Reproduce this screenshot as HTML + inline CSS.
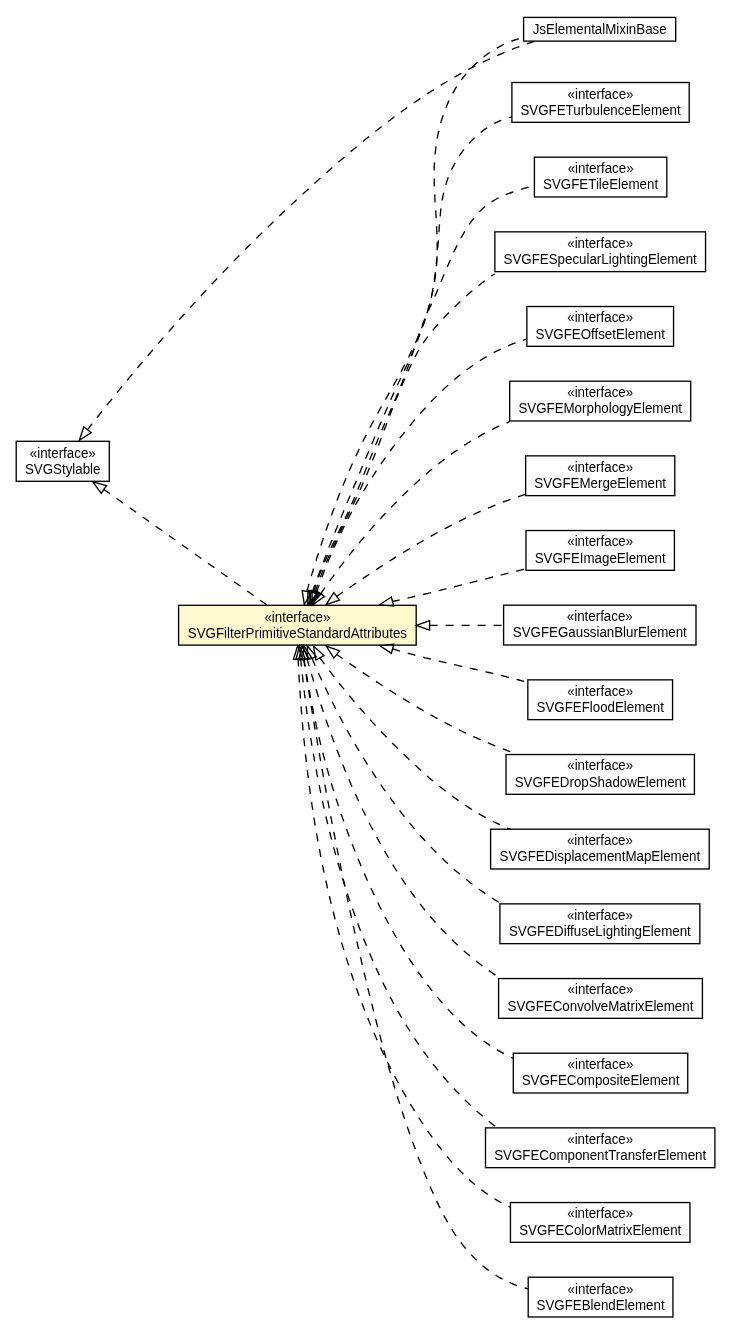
<!DOCTYPE html>
<html><head><meta charset="utf-8"><title>SVGFilterPrimitiveStandardAttributes</title>
<style>
html,body{margin:0;padding:0;background:#fff;}
body{width:731px;height:1328px;position:relative;overflow:hidden;font-family:"Liberation Sans",sans-serif;}
</style></head><body>
<svg width="731" height="1328" viewBox="0 0 731 1328" style="position:absolute;left:0;top:0;will-change:transform">
<g fill="none" stroke="#000" stroke-width="1.333">
<rect x="523.60" y="17.40" width="152.10" height="23.70"/>
<rect x="511.90" y="82.50" width="177.30" height="39.80"/>
<rect x="534.40" y="157.17" width="132.40" height="39.80"/>
<rect x="494.86" y="231.84" width="210.68" height="39.80"/>
<rect x="526.86" y="306.51" width="146.69" height="39.80"/>
<rect x="509.69" y="381.18" width="181.02" height="39.80"/>
<rect x="525.62" y="455.85" width="149.16" height="39.80"/>
<rect x="525.99" y="530.52" width="148.42" height="39.80"/>
<rect x="503.60" y="605.19" width="192.40" height="39.80"/>
<rect x="527.84" y="679.86" width="144.72" height="39.80"/>
<rect x="505.99" y="754.53" width="188.42" height="39.80"/>
<rect x="490.60" y="829.20" width="218.62" height="39.80"/>
<rect x="499.90" y="903.87" width="199.95" height="39.80"/>
<rect x="498.59" y="978.54" width="203.81" height="39.80"/>
<rect x="513.30" y="1053.21" width="174.44" height="39.80"/>
<rect x="485.50" y="1127.88" width="229.41" height="39.80"/>
<rect x="510.45" y="1202.55" width="179.50" height="39.80"/>
<rect x="528.20" y="1277.22" width="144.74" height="39.80"/>
<rect x="16.20" y="441.30" width="93.10" height="40.00"/>
<rect x="178.60" y="605.30" width="237.60" height="39.80" fill="#fef8cf"/>
</g>
<g font-family="Liberation Sans, sans-serif" font-size="13.333" text-anchor="middle" fill="#000">
<text x="599.65" y="33.70" transform="matrix(1,0,0,1.05,0,-1.685)">JsElementalMixinBase</text>
<text x="600.55" y="98.70" transform="matrix(1,0,0,1.05,0,-4.935)">«interface»</text>
<text x="600.55" y="114.80" transform="matrix(1,0,0,1.05,0,-5.740)">SVGFETurbulenceElement</text>
<text x="600.60" y="173.07" transform="matrix(1,0,0,1.05,0,-8.654)">«interface»</text>
<text x="600.60" y="189.27" transform="matrix(1,0,0,1.05,0,-9.464)">SVGFETileElement</text>
<text x="600.20" y="247.74" transform="matrix(1,0,0,1.05,0,-12.387)">«interface»</text>
<text x="600.20" y="263.94" transform="matrix(1,0,0,1.05,0,-13.197)">SVGFESpecularLightingElement</text>
<text x="600.20" y="322.41" transform="matrix(1,0,0,1.05,0,-16.121)">«interface»</text>
<text x="600.20" y="338.61" transform="matrix(1,0,0,1.05,0,-16.931)">SVGFEOffsetElement</text>
<text x="600.20" y="397.08" transform="matrix(1,0,0,1.05,0,-19.854)">«interface»</text>
<text x="600.20" y="413.28" transform="matrix(1,0,0,1.05,0,-20.664)">SVGFEMorphologyElement</text>
<text x="600.20" y="471.75" transform="matrix(1,0,0,1.05,0,-23.588)">«interface»</text>
<text x="600.20" y="487.95" transform="matrix(1,0,0,1.05,0,-24.398)">SVGFEMergeElement</text>
<text x="600.20" y="546.42" transform="matrix(1,0,0,1.05,0,-27.321)">«interface»</text>
<text x="600.20" y="562.62" transform="matrix(1,0,0,1.05,0,-28.131)">SVGFEImageElement</text>
<text x="599.80" y="621.09" transform="matrix(1,0,0,1.05,0,-31.055)">«interface»</text>
<text x="599.80" y="637.29" transform="matrix(1,0,0,1.05,0,-31.865)">SVGFEGaussianBlurElement</text>
<text x="600.20" y="695.71" transform="matrix(1,0,0,1.05,0,-34.786)">«interface»</text>
<text x="600.20" y="711.71" transform="matrix(1,0,0,1.05,0,-35.586)">SVGFEFloodElement</text>
<text x="600.20" y="770.43" transform="matrix(1,0,0,1.05,0,-38.522)">«interface»</text>
<text x="600.20" y="786.63" transform="matrix(1,0,0,1.05,0,-39.332)">SVGFEDropShadowElement</text>
<text x="599.91" y="845.10" transform="matrix(1,0,0,1.05,0,-42.255)">«interface»</text>
<text x="599.91" y="861.30" transform="matrix(1,0,0,1.05,0,-43.065)">SVGFEDisplacementMapElement</text>
<text x="599.88" y="919.77" transform="matrix(1,0,0,1.05,0,-45.989)">«interface»</text>
<text x="599.88" y="935.97" transform="matrix(1,0,0,1.05,0,-46.799)">SVGFEDiffuseLightingElement</text>
<text x="600.50" y="994.44" transform="matrix(1,0,0,1.05,0,-49.722)">«interface»</text>
<text x="600.50" y="1010.64" transform="matrix(1,0,0,1.05,0,-50.532)">SVGFEConvolveMatrixElement</text>
<text x="600.52" y="1069.11" transform="matrix(1,0,0,1.05,0,-53.456)">«interface»</text>
<text x="600.52" y="1085.31" transform="matrix(1,0,0,1.05,0,-54.266)">SVGFECompositeElement</text>
<text x="600.20" y="1143.78" transform="matrix(1,0,0,1.05,0,-57.189)">«interface»</text>
<text x="600.20" y="1159.98" transform="matrix(1,0,0,1.05,0,-57.999)">SVGFEComponentTransferElement</text>
<text x="600.20" y="1218.45" transform="matrix(1,0,0,1.05,0,-60.923)">«interface»</text>
<text x="600.20" y="1234.65" transform="matrix(1,0,0,1.05,0,-61.733)">SVGFEColorMatrixElement</text>
<text x="600.57" y="1293.52" transform="matrix(1,0,0,1.05,0,-64.676)">«interface»</text>
<text x="600.57" y="1309.72" transform="matrix(1,0,0,1.05,0,-65.486)">SVGFEBlendElement</text>
<text x="62.75" y="457.70" transform="matrix(1,0,0,1.05,0,-22.885)">«interface»</text>
<text x="62.75" y="473.80" transform="matrix(1,0,0,1.05,0,-23.690)">SVGStylable</text>
<text x="297.40" y="621.60" transform="matrix(1,0,0,1.05,0,-31.080)">«interface»</text>
<text x="297.40" y="637.70" transform="matrix(1,0,0,1.05,0,-31.885)">SVGFilterPrimitiveStandardAttributes</text>
</g>
<g fill="none" stroke="#000" stroke-width="1.333" stroke-dasharray="8 8">
<path d="M87.1,430.2 89,427.8 90.8,425.4 92.7,423.1 94.6,420.7 96.4,418.3 98.3,416 100.2,413.6 102.1,411.2 103.9,408.9 105.8,406.5 107.7,404.2 109.6,401.8 111.5,399.5 113.4,397.1 115.3,394.8 117.2,392.4 119.1,390.1 121,387.7 123,385.4 124.9,383.1 126.8,380.8 128.7,378.4 130.6,376.1 132.6,373.8 134.5,371.5 136.4,369.2 138.4,366.8 140.3,364.5 142.3,362.2 144.2,359.9 146.2,357.6 148.1,355.3 150.1,353 152.1,350.7 154,348.5 156,346.2 158,343.9 159.9,341.6 161.9,339.3 163.9,337.1 165.9,334.8 167.9,332.5 169.9,330.3 171.9,328 173.9,325.7 175.9,323.5 177.9,321.2 179.9,319 181.9,316.7 183.9,314.5 185.9,312.3 187.9,310 190,307.8 192,305.6 194,303.3 196.1,301.1 198.1,298.9 200.2,296.7 202.2,294.5 204.3,292.3 206.3,290 208.4,287.8 210.4,285.6 212.5,283.4 214.6,281.2 216.6,279.1 218.7,276.9 220.8,274.7 222.9,272.5 225,270.3 227,268.2 229.1,266 231.2,263.8 233.3,261.7 235.4,259.5 237.5,257.3 239.7,255.2 241.8,253 243.9,250.9 246,248.7 248.1,246.6 250.3,244.5 252.4,242.3 254.5,240.2 256.7,238.1 258.8,236 261,233.8 263.1,231.7 265.3,229.6 267.5,227.5 269.6,225.4 271.8,223.3 274,221.2 276.1,219.1 278.3,217 280.5,214.9 282.7,212.8 284.9,210.8 287.1,208.7 289.3,206.6 291.5,204.6 293.7,202.5 295.9,200.4 298.1,198.4 300.3,196.3 302.5,194.3 304.8,192.2 307,190.2 309.2,188.1 311.5,186.1 313.7,184.1 316,182.1 318.2,180 320.5,178 322.7,176 325,174 327.3,172 329.5,170 331.8,168 334.1,166 336.4,164 338.7,162 341,160 343.3,158.1 345.6,156.1 347.9,154.1 350.2,152.2 352.5,150.2 354.8,148.3 357.1,146.3 359.5,144.4 361.8,142.5 364.1,140.5 366.5,138.6 368.8,136.7 371.2,134.8 373.6,132.9 375.9,131.1 378.3,129.2 380.7,127.3 383.1,125.5 385.5,123.6 387.9,121.8 390.3,120 392.7,118.1 395.1,116.3 397.5,114.5 400,112.8 402.4,111 404.9,109.2 407.3,107.5 409.8,105.7 412.2,104 414.7,102.3 417.2,100.6 419.7,98.9 422.2,97.2 424.7,95.5 427.2,93.9 429.7,92.2 432.2,90.6 434.8,89 437.3,87.4 439.9,85.8 442.4,84.3 445,82.7 447.6,81.2 450.2,79.6 452.8,78.1 455.4,76.6 458,75.2 460.6,73.7 463.2,72.3 465.9,70.8 468.5,69.4 471.2,68 473.8,66.6 476.5,65.3 479.2,63.9 481.9,62.6 484.6,61.3 487.3,60 490,58.8 492.8,57.5 495.5,56.3 498.2,55.1 501,53.9 503.8,52.7 506.6,51.6 509.4,50.4 512.2,49.3 515,48.2 517.8,47.2 520.6,46.1 523.5,45.1 526.4,44.1 529.2,43.1 532.1,42.1 535,41.2"/>
<path d="M306.8,591.5 307.6,588.6 308.5,585.7 309.3,582.8 310.2,579.9 311,577 311.9,574.1 312.8,571.2 313.7,568.3 314.5,565.5 315.4,562.6 316.3,559.7 317.2,556.8 318.2,553.9 319.1,551.1 320,548.2 321,545.3 321.9,542.5 322.9,539.6 323.8,536.8 324.8,533.9 325.8,531 326.8,528.2 327.8,525.4 328.8,522.5 329.8,519.7 330.8,516.8 331.9,514 332.9,511.2 334,508.4 335,505.5 336.1,502.7 337.2,499.9 338.3,497.1 339.4,494.3 340.5,491.5 341.7,488.7 342.8,485.9 344,483.2 345.1,480.4 346.3,477.6 347.5,474.8 348.7,472.1 349.9,469.3 351.1,466.6 352.3,463.8 353.6,461.1 354.8,458.3 356.1,455.6 357.4,452.9 358.6,450.1 360,447.4 361.3,444.7 362.6,442 363.9,439.3 365.3,436.6 366.7,433.9 368,431.2 369.4,428.6 370.8,425.9 372.3,423.2 373.7,420.6 375.1,417.9 376.6,415.3 378.1,412.6 379.5,410 381,407.3 382.5,404.7 384,402.1 385.5,399.4 387,396.8 388.5,394.2 390,391.6 391.5,388.9 392.9,386.3 394.4,383.7 395.9,381 397.4,378.4 398.8,375.7 400.3,373.1 401.7,370.4 403.1,367.8 404.5,365.1 405.9,362.4 407.3,359.7 408.7,357 410,354.3 411.3,351.6 412.6,348.9 413.9,346.2 415.2,343.5 416.4,340.7 417.6,337.9 418.8,335.2 419.9,332.4 421,329.6 422.1,326.8 423.2,323.9 424.2,321.1 425.2,318.3 426.1,315.4 427.1,312.6 428,309.7 428.8,306.8 429.6,303.9 430.4,301 431.1,298.1 431.8,295.2 432.5,292.2 433.1,289.3 433.7,286.4 434.2,283.4 434.7,280.5 435.2,277.5 435.6,274.6 435.9,271.6 436.3,268.6 436.5,265.6 436.8,262.6 436.9,259.7 437.1,256.7 437.2,253.7 437.2,250.7 437.2,247.7 437.2,244.7 437.2,241.6 437.1,238.6 437,235.6 436.9,232.6 436.7,229.6 436.6,226.6 436.4,223.5 436.3,220.5 436.1,217.5 435.9,214.4 435.7,211.4 435.5,208.4 435.3,205.3 435.1,202.3 434.9,199.3 434.8,196.2 434.6,193.2 434.5,190.2 434.4,187.1 434.3,184.1 434.2,181.1 434.2,178 434.2,175 434.2,172 434.2,169 434.3,165.9 434.5,162.9 434.7,159.9 434.9,156.9 435.1,153.9 435.5,150.8 435.8,147.8 436.2,144.9 436.7,141.9 437.2,138.9 437.7,136 438.3,133 439,130.1 439.7,127.2 440.4,124.3 441.2,121.4 442.1,118.5 443,115.7 444,112.9 445,110.1 446.1,107.3 447.2,104.6 448.4,101.9 449.7,99.2 451,96.5 452.4,93.9 453.9,91.3 455.4,88.7 457,86.2 458.7,83.7 460.4,81.3 462.1,78.8 464,76.5 465.9,74.1 467.8,71.8 469.9,69.6 471.9,67.4 474.1,65.3 476.3,63.2 478.5,61.2 480.8,59.2 483.1,57.3 485.5,55.5 488,53.7 490.5,52 493,50.4 495.6,48.8 498.2,47.3 500.9,45.9 503.6,44.5 506.3,43.3 509.1,42.1 511.9,41 514.8,40 517.7,39.1 520.6,38.3 523.6,37.6"/>
<path d="M312.3,592.4 313.3,589.5 314.3,586.7 315.3,583.8 316.3,581 317.4,578.2 318.4,575.3 319.5,572.5 320.5,569.7 321.6,566.8 322.6,564 323.7,561.2 324.8,558.4 325.9,555.5 326.9,552.7 328,549.9 329.1,547.1 330.2,544.3 331.4,541.5 332.5,538.7 333.6,535.9 334.7,533.1 335.8,530.3 337,527.5 338.1,524.7 339.3,521.9 340.4,519.1 341.5,516.3 342.7,513.5 343.8,510.7 345,507.9 346.2,505.1 347.3,502.3 348.5,499.6 349.6,496.8 350.8,494 352,491.2 353.1,488.4 354.3,485.6 355.5,482.8 356.7,480.1 357.8,477.3 359,474.5 360.2,471.7 361.3,468.9 362.5,466.1 363.7,463.3 364.9,460.6 366,457.8 367.2,455 368.4,452.2 369.5,449.4 370.7,446.6 371.9,443.8 373.1,441 374.2,438.2 375.4,435.4 376.6,432.7 377.7,429.9 378.9,427.1 380.1,424.3 381.3,421.5 382.5,418.7 383.7,416 384.9,413.2 386.1,410.4 387.3,407.7 388.5,404.9 389.7,402.1 390.9,399.4 392.1,396.6 393.4,393.9 394.6,391.2 395.9,388.4 397.1,385.7 398.4,383 399.7,380.3 401,377.5 402.3,374.8 403.6,372.1 404.8,369.4 406.1,366.7 407.4,364 408.7,361.3 409.9,358.5 411.1,355.8 412.4,353.1 413.5,350.3 414.7,347.5 415.8,344.7 417,341.9 418.1,339.1 419.2,336.3 420.3,333.4 421.3,330.6 422.4,327.7 423.4,324.9 424.4,322 425.3,319.1 426.2,316.2 427.1,313.3 428,310.4 428.8,307.5 429.5,304.6 430.3,301.6 430.9,298.7 431.6,295.8 432.2,292.8 432.7,289.8 433.2,286.9 433.7,283.9 434.2,280.9 434.6,278 435,275 435.4,272 435.7,269 436.1,266 436.4,263 436.7,260 437,257 437.2,254 437.5,251 437.7,248 438,245 438.2,241.9 438.4,238.9 438.6,235.9 438.8,232.9 439.1,229.9 439.3,226.9 439.5,223.8 439.7,220.8 440,217.8 440.3,214.8 440.6,211.8 440.9,208.8 441.3,205.8 441.8,202.9 442.2,199.9 442.8,196.9 443.4,194 444.1,191.1 444.8,188.2 445.6,185.3 446.5,182.4 447.5,179.5 448.5,176.7 449.7,173.9 450.9,171.1 452.2,168.4 453.6,165.7 455,163 456.5,160.4 458.1,157.8 459.8,155.2 461.5,152.7 463.3,150.3 465.1,147.9 467.1,145.6 469.1,143.3 471.1,141.1 473.2,139 475.4,136.9 477.6,134.9 479.9,133 482.3,131.2 484.7,129.4 487.2,127.7 489.7,126.1 492.3,124.6 495,123.2 497.7,121.9 500.4,120.7 503.2,119.5 506.1,118.5 509,117.6 512,116.8"/>
<path d="M313.7,592.4 314.5,589.5 315.4,586.5 316.3,583.6 317.3,580.8 318.3,577.9 319.3,575.1 320.4,572.2 321.5,569.4 322.6,566.6 323.8,563.8 325,561 326.2,558.3 327.4,555.5 328.7,552.8 330,550 331.3,547.3 332.6,544.5 333.9,541.8 335.2,539.1 336.5,536.4 337.9,533.6 339.2,530.9 340.5,528.2 341.8,525.5 343.1,522.7 344.4,520 345.7,517.3 347,514.5 348.3,511.8 349.5,509 350.7,506.2 351.9,503.4 353.1,500.7 354.3,497.9 355.5,495.1 356.6,492.3 357.8,489.5 358.9,486.7 360.1,483.9 361.2,481.1 362.3,478.2 363.4,475.4 364.6,472.6 365.7,469.8 366.8,467 367.9,464.2 369,461.3 370.1,458.5 371.3,455.7 372.4,452.9 373.5,450.1 374.7,447.3 375.8,444.5 377,441.7 378.1,438.9 379.3,436.1 380.5,433.3 381.7,430.5 382.9,427.7 384.1,425 385.3,422.2 386.5,419.4 387.7,416.6 389,413.8 390.2,411.1 391.4,408.3 392.6,405.5 393.8,402.7 395,399.9 396.2,397.1 397.3,394.4 398.5,391.6 399.7,388.8 400.8,385.9 401.9,383.1 403,380.3 404.1,377.5 405.2,374.6 406.3,371.8 407.3,368.9 408.3,366.1 409.3,363.2 410.3,360.3 411.2,357.5 412.2,354.6 413.1,351.7 414,348.8 415,345.9 415.9,343 416.9,340.2 417.9,337.3 418.9,334.4 419.9,331.6 420.9,328.8 422,325.9 423.1,323.1 424.2,320.4 425.4,317.6 426.5,314.9 427.8,312.1 429,309.4 430.2,306.6 431.5,303.9 432.7,301.2 433.9,298.4 435.2,295.6 436.4,292.9 437.6,290.1 438.7,287.3 439.9,284.5 441.1,281.6 442.3,278.8 443.4,276 444.6,273.2 445.8,270.4 447,267.5 448.2,264.7 449.4,261.9 450.6,259.1 451.9,256.4 453.1,253.6 454.4,250.8 455.7,248.1 457.1,245.4 458.4,242.7 459.9,240 461.3,237.4 462.8,234.8 464.3,232.2 465.9,229.6 467.5,227.1 469.1,224.6 470.8,222.2 472.6,219.8 474.4,217.4 476.3,215.2 478.3,212.9 480.4,210.8 482.5,208.8 484.8,206.8 487.1,205 489.5,203.2 492,201.6 494.6,200 497.3,198.5 500,197.2 502.8,195.9 505.6,194.7 508.5,193.5 511.4,192.5 514.3,191.5 517.3,190.5 520.2,189.6 523.2,188.7 526.1,187.9 529,187.1 531.9,186.3 534.7,185.5"/>
<path d="M315.1,592.4 316,589.5 317,586.6 318,583.7 319,580.9 320,578 321.1,575.2 322.1,572.4 323.3,569.6 324.4,566.8 325.5,564 326.7,561.2 327.9,558.4 329.1,555.6 330.3,552.9 331.5,550.1 332.8,547.3 334.1,544.6 335.3,541.9 336.6,539.1 337.9,536.4 339.2,533.7 340.5,530.9 341.8,528.2 343.1,525.5 344.4,522.7 345.7,520 347.1,517.3 348.4,514.6 349.7,511.8 351,509.1 352.3,506.4 353.6,503.7 354.9,500.9 356.2,498.2 357.5,495.4 358.7,492.7 360,489.9 361.2,487.2 362.5,484.4 363.7,481.6 364.9,478.8 366.1,476.1 367.3,473.3 368.4,470.5 369.6,467.7 370.7,464.8 371.8,462 373,459.2 374.1,456.4 375.2,453.6 376.3,450.7 377.4,447.9 378.5,445.1 379.6,442.2 380.7,439.4 381.7,436.6 382.8,433.7 383.9,430.9 385,428 386.1,425.2 387.1,422.4 388.2,419.5 389.3,416.7 390.4,413.9 391.5,411.1 392.6,408.2 393.7,405.4 394.8,402.6 395.9,399.8 397.1,397 398.2,394.2 399.4,391.4 400.5,388.6 401.7,385.8 402.9,383 404.1,380.3 405.3,377.5 406.5,374.7 407.8,372 409,369.3 410.3,366.5 411.6,363.8 412.9,361.1 414.3,358.4 415.7,355.8 417.1,353.1 418.6,350.5 420.1,347.9 421.7,345.4 423.3,342.9 425,340.4 426.8,337.9 428.6,335.5 430.4,333.1 432.3,330.8 434.3,328.5 436.2,326.2 438.3,323.9 440.3,321.6 442.4,319.4 444.5,317.2 446.6,315 448.7,312.8 450.9,310.7 453,308.5 455.2,306.4 457.4,304.3 459.6,302.2 461.8,300.1 464,298.1 466.2,296 468.5,294 470.8,292 473.1,290.1 475.4,288.2 477.7,286.3 480.1,284.4 482.4,282.5 484.8,280.7 487.3,278.9 489.7,277.2 492.2,275.5 494.7,273.8"/>
<path d="M316.5,592.4 317.5,589.5 318.5,586.7 319.5,583.8 320.5,581 321.6,578.1 322.7,575.3 323.7,572.5 324.8,569.6 326,566.8 327.1,564 328.2,561.2 329.4,558.4 330.6,555.6 331.8,552.8 333,550.1 334.2,547.3 335.5,544.5 336.7,541.8 338,539 339.3,536.3 340.6,533.6 341.9,530.8 343.3,528.1 344.6,525.4 346,522.7 347.4,520 348.8,517.3 350.2,514.7 351.6,512 353.1,509.3 354.5,506.7 356,504 357.5,501.4 359,498.8 360.6,496.1 362.1,493.5 363.7,490.9 365.2,488.3 366.8,485.7 368.4,483.2 370,480.6 371.7,478 373.3,475.5 375,472.9 376.6,470.4 378.3,467.9 380,465.4 381.7,462.8 383.5,460.3 385.2,457.9 387,455.4 388.8,452.9 390.5,450.5 392.3,448 394.2,445.6 396,443.1 397.8,440.7 399.7,438.3 401.6,435.9 403.5,433.5 405.4,431.1 407.3,428.8 409.2,426.4 411.2,424.1 413.1,421.7 415.1,419.4 417.1,417.1 419.1,414.8 421.1,412.5 423.1,410.2 425.2,408 427.2,405.7 429.3,403.5 431.4,401.3 433.5,399.1 435.7,397 437.8,394.8 440,392.7 442.2,390.6 444.4,388.5 446.6,386.5 448.9,384.5 451.1,382.5 453.4,380.5 455.7,378.5 458,376.6 460.4,374.7 462.7,372.9 465.1,371 467.5,369.2 469.9,367.5 472.4,365.7 474.9,364 477.4,362.4 479.9,360.7 482.4,359.1 485,357.6 487.6,356 490.2,354.6 492.8,353.1 495.5,351.7 498.2,350.3 500.9,349 503.6,347.7 506.4,346.5 509.2,345.3 512,344.2 514.9,343.1 517.7,342 520.6,341 523.5,340 526.5,339.1"/>
<path d="M320.5,594.1 322.2,591.6 323.9,589.1 325.7,586.6 327.4,584.2 329.2,581.7 331,579.2 332.8,576.8 334.6,574.3 336.4,571.9 338.2,569.4 340,567 341.9,564.6 343.7,562.1 345.6,559.7 347.5,557.3 349.4,554.9 351.3,552.6 353.2,550.2 355.2,547.8 357.1,545.4 359.1,543.1 361,540.7 363,538.4 365,536.1 367,533.7 369,531.4 371,529.1 373.1,526.8 375.1,524.6 377.2,522.3 379.2,520 381.3,517.8 383.4,515.5 385.5,513.3 387.6,511 389.7,508.8 391.8,506.6 394,504.4 396.1,502.2 398.3,500.1 400.5,497.9 402.6,495.7 404.8,493.6 407,491.5 409.2,489.4 411.5,487.3 413.7,485.2 416,483.1 418.2,481 420.5,479 422.8,477 425.1,475 427.4,473 429.7,471 432.1,469.1 434.4,467.1 436.8,465.2 439.2,463.3 441.6,461.4 444,459.6 446.4,457.8 448.9,456 451.3,454.2 453.8,452.4 456.3,450.7 458.8,449 461.3,447.3 463.9,445.6 466.4,444 469,442.3 471.6,440.8 474.2,439.2 476.8,437.7 479.5,436.2 482.1,434.7 484.8,433.2 487.5,431.8 490.2,430.4 493,429.1 495.7,427.7 498.5,426.4 501.3,425.2 504.1,424 506.9,422.8 509.8,421.6"/>
<path d="M336.3,596.7 338.8,595 341.3,593.2 343.9,591.5 346.4,589.7 348.9,588 351.5,586.3 354,584.5 356.6,582.8 359.1,581.1 361.7,579.3 364.2,577.6 366.8,575.9 369.4,574.2 371.9,572.5 374.5,570.8 377.1,569.1 379.7,567.4 382.3,565.7 384.8,564.1 387.4,562.4 390,560.7 392.7,559.1 395.3,557.4 397.9,555.8 400.5,554.2 403.1,552.6 405.8,551 408.4,549.4 411.1,547.8 413.7,546.2 416.4,544.6 419,543 421.7,541.5 424.4,540 427.1,538.4 429.7,536.9 432.4,535.4 435.1,533.9 437.8,532.4 440.5,531 443.3,529.5 446,528.1 448.7,526.6 451.5,525.2 454.2,523.8 457,522.4 459.7,521.1 462.5,519.7 465.2,518.4 468,517.1 470.8,515.8 473.6,514.5 476.4,513.2 479.2,511.9 482,510.7 484.8,509.5 487.7,508.3 490.5,507.1 493.4,505.9 496.2,504.8 499.1,503.6 501.9,502.5 504.8,501.4 507.7,500.4 510.6,499.3 513.5,498.3 516.4,497.3 519.3,496.3 522.3,495.3 525.2,494.4"/>
<path d="M391.9,601.7 394.9,601 397.9,600.3 400.9,599.6 403.9,599 406.9,598.3 409.9,597.6 412.9,596.8 415.9,596.1 418.9,595.4 421.9,594.7 424.9,594 427.9,593.3 430.9,592.5 433.9,591.8 436.9,591.1 439.9,590.3 442.8,589.6 445.8,588.9 448.8,588.1 451.8,587.4 454.8,586.6 457.8,585.9 460.8,585.1 463.8,584.4 466.8,583.6 469.7,582.9 472.7,582.1 475.7,581.4 478.7,580.6 481.7,579.9 484.7,579.1 487.7,578.4 490.7,577.6 493.6,576.8 496.6,576.1 499.6,575.3 502.6,574.6 505.6,573.8 508.6,573.1 511.6,572.3 514.5,571.6 517.5,570.8 520.5,570.1 523.5,569.3 526.5,568.6"/>
<path d="M429.6,625.4 503.6,625.4"/>
<path d="M392.3,648.8 395.3,649.7 398.3,650.6 401.2,651.4 404.2,652.3 407.2,653.1 410.2,653.9 413.2,654.7 416.2,655.5 419.2,656.3 422.2,657 425.2,657.8 428.2,658.5 431.3,659.3 434.3,660 437.3,660.7 440.3,661.4 443.3,662.2 446.4,662.9 449.4,663.6 452.4,664.2 455.4,664.9 458.5,665.6 461.5,666.3 464.5,667 467.6,667.7 470.6,668.4 473.6,669 476.7,669.7 479.7,670.4 482.7,671.1 485.7,671.8 488.8,672.5 491.8,673.2 494.8,673.9 497.8,674.7 500.8,675.4 503.9,676.1 506.9,676.9 509.9,677.6 512.9,678.4 515.9,679.2 518.9,680 521.9,680.8 524.9,681.6 527.9,682.4"/>
<path d="M336.4,654.2 338.9,656 341.4,657.7 343.9,659.5 346.4,661.2 348.9,663 351.4,664.7 353.9,666.4 356.5,668.2 359,669.9 361.5,671.6 364,673.4 366.6,675.1 369.1,676.8 371.7,678.5 374.2,680.2 376.8,681.9 379.3,683.5 381.9,685.2 384.5,686.9 387,688.6 389.6,690.2 392.2,691.9 394.8,693.5 397.4,695.1 400,696.7 402.6,698.3 405.2,699.9 407.8,701.5 410.4,703.1 413.1,704.7 415.7,706.3 418.3,707.8 421,709.3 423.6,710.9 426.3,712.4 429,713.9 431.6,715.4 434.3,716.9 437,718.3 439.7,719.8 442.4,721.2 445.1,722.7 447.8,724.1 450.5,725.5 453.2,726.9 456,728.3 458.7,729.6 461.4,731 464.2,732.3 467,733.6 469.7,734.9 472.5,736.2 475.3,737.4 478.1,738.7 480.9,739.9 483.7,741.1 486.5,742.3 489.3,743.5 492.1,744.7 495,745.8 497.8,747 500.7,748.1 503.6,749.1 506.4,750.2 509.3,751.3 512.2,752.3 515.1,753.3 518,754.3"/>
<path d="M319.8,657.7 321.6,660.2 323.4,662.6 325.2,665.1 327.1,667.5 328.9,670 330.8,672.4 332.6,674.8 334.5,677.3 336.4,679.7 338.3,682.1 340.2,684.5 342.1,686.8 344,689.2 345.9,691.6 347.9,693.9 349.8,696.3 351.8,698.6 353.8,701 355.7,703.3 357.7,705.6 359.7,707.9 361.7,710.2 363.8,712.5 365.8,714.8 367.8,717.1 369.9,719.3 371.9,721.6 374,723.9 376.1,726.1 378.2,728.3 380.2,730.6 382.3,732.8 384.5,735 386.6,737.2 388.7,739.4 390.9,741.6 393,743.8 395.2,745.9 397.3,748.1 399.5,750.2 401.7,752.4 403.9,754.5 406.1,756.6 408.4,758.8 410.6,760.9 412.8,763 415.1,765.1 417.3,767.1 419.6,769.2 421.9,771.3 424.2,773.3 426.5,775.3 428.8,777.4 431.1,779.4 433.5,781.3 435.8,783.3 438.2,785.2 440.6,787.2 443,789.1 445.4,791 447.8,792.8 450.3,794.7 452.7,796.5 455.2,798.3 457.7,800.1 460.2,801.8 462.7,803.6 465.2,805.3 467.8,806.9 470.3,808.6 472.9,810.2 475.5,811.8 478.1,813.3 480.8,814.9 483.4,816.4 486.1,817.8 488.8,819.2 491.5,820.6 494.2,822 497,823.3 499.7,824.6 502.5,825.9 505.3,827.1 508.1,828.3 511,829.4"/>
<path d="M312,658.3 313.2,661.1 314.4,663.9 315.6,666.6 316.9,669.4 318.1,672.2 319.3,675 320.6,677.7 321.9,680.5 323.2,683.3 324.5,686 325.8,688.8 327.1,691.5 328.4,694.3 329.8,697 331.1,699.7 332.5,702.5 333.9,705.2 335.2,707.9 336.6,710.6 338.1,713.4 339.5,716.1 340.9,718.8 342.3,721.5 343.8,724.2 345.3,726.9 346.8,729.5 348.2,732.2 349.7,734.9 351.3,737.5 352.8,740.2 354.3,742.8 355.9,745.5 357.4,748.1 359,750.8 360.6,753.4 362.2,756 363.8,758.6 365.4,761.2 367,763.8 368.7,766.4 370.3,769 372,771.5 373.7,774.1 375.4,776.7 377.1,779.2 378.8,781.7 380.5,784.3 382.3,786.8 384,789.3 385.8,791.8 387.6,794.3 389.4,796.8 391.2,799.3 393,801.7 394.8,804.2 396.6,806.6 398.5,809.1 400.4,811.5 402.2,813.9 404.1,816.3 406.1,818.7 408,821 409.9,823.4 411.9,825.7 413.8,828.1 415.8,830.4 417.8,832.7 419.8,835 421.8,837.2 423.9,839.5 425.9,841.7 428,844 430.1,846.2 432.2,848.4 434.3,850.5 436.5,852.7 438.6,854.9 440.8,857 443,859.1 445.2,861.2 447.4,863.3 449.7,865.3 451.9,867.3 454.2,869.4 456.5,871.4 458.8,873.3 461.1,875.3 463.5,877.2 465.8,879.1 468.2,881 470.6,882.9 473.1,884.8 475.5,886.6 478,888.4 480.4,890.2 482.9,891.9 485.5,893.7 488,895.4 490.6,897.1 493.1,898.7 495.7,900.4 498.4,902 501,903.6"/>
<path d="M307,658.5 307.8,661.4 308.6,664.3 309.5,667.2 310.3,670.1 311.2,673 312,675.9 312.9,678.8 313.7,681.6 314.6,684.5 315.5,687.4 316.4,690.3 317.3,693.2 318.2,696.1 319.1,699 320.1,701.9 321,704.8 322,707.7 322.9,710.6 323.9,713.5 324.9,716.3 325.8,719.2 326.8,722.1 327.8,725 328.9,727.9 329.9,730.7 330.9,733.6 332,736.5 333,739.4 334.1,742.2 335.1,745.1 336.2,747.9 337.3,750.8 338.4,753.6 339.5,756.5 340.6,759.3 341.8,762.2 342.9,765 344.1,767.8 345.2,770.7 346.4,773.5 347.6,776.3 348.8,779.1 350,782 351.2,784.8 352.5,787.6 353.7,790.4 355,793.1 356.2,795.9 357.5,798.7 358.8,801.5 360.1,804.3 361.4,807 362.7,809.8 364.1,812.5 365.4,815.3 366.8,818 368.2,820.7 369.5,823.5 370.9,826.2 372.4,828.9 373.8,831.6 375.2,834.3 376.7,837 378.1,839.6 379.6,842.3 381.1,845 382.6,847.6 384.1,850.3 385.6,852.9 387.2,855.5 388.8,858.1 390.3,860.8 391.9,863.3 393.5,865.9 395.1,868.5 396.8,871.1 398.4,873.6 400.1,876.2 401.8,878.7 403.5,881.2 405.2,883.7 406.9,886.2 408.7,888.7 410.4,891.1 412.2,893.6 414,896 415.8,898.4 417.6,900.8 419.5,903.2 421.4,905.6 423.2,908 425.1,910.3 427.1,912.6 429,915 431,917.3 432.9,919.5 434.9,921.8 436.9,924.1 439,926.3 441,928.5 443.1,930.7 445.2,932.9 447.3,935.1 449.4,937.2 451.6,939.3 453.7,941.4 455.9,943.5 458.1,945.6 460.4,947.6 462.6,949.7 464.9,951.7 467.2,953.7 469.5,955.6 471.8,957.6 474.2,959.5 476.6,961.4 479,963.3 481.4,965.1 483.8,967 486.3,968.8 488.8,970.6 491.3,972.3 493.9,974.1 496.4,975.8 499,977.5"/>
<path d="M304,658.5 304.4,661.5 304.9,664.5 305.4,667.5 305.8,670.5 306.3,673.5 306.8,676.5 307.3,679.5 307.8,682.5 308.3,685.5 308.9,688.5 309.4,691.5 310,694.5 310.5,697.4 311.1,700.4 311.7,703.4 312.3,706.4 312.9,709.3 313.5,712.3 314.1,715.3 314.7,718.2 315.4,721.2 316,724.2 316.7,727.1 317.3,730.1 318,733 318.7,736 319.4,738.9 320.1,741.8 320.8,744.8 321.6,747.7 322.3,750.7 323.1,753.6 323.8,756.5 324.6,759.4 325.4,762.4 326.2,765.3 327,768.2 327.8,771.1 328.6,774 329.5,776.9 330.3,779.8 331.2,782.7 332,785.6 332.9,788.5 333.8,791.4 334.7,794.3 335.6,797.2 336.5,800 337.5,802.9 338.4,805.8 339.4,808.6 340.3,811.5 341.3,814.4 342.3,817.2 343.3,820.1 344.3,822.9 345.3,825.8 346.3,828.6 347.4,831.5 348.4,834.3 349.5,837.1 350.6,840 351.7,842.8 352.8,845.6 353.9,848.4 355,851.3 356.1,854.1 357.3,856.9 358.4,859.7 359.6,862.5 360.8,865.3 361.9,868.1 363.1,870.9 364.4,873.6 365.6,876.4 366.8,879.2 368.1,882 369.3,884.7 370.6,887.5 371.9,890.3 373.2,893 374.5,895.8 375.8,898.5 377.1,901.3 378.5,904 379.8,906.7 381.2,909.4 382.6,912.2 383.9,914.9 385.4,917.6 386.8,920.3 388.2,923 389.7,925.7 391.1,928.3 392.6,931 394.1,933.7 395.6,936.3 397.1,939 398.6,941.6 400.2,944.2 401.8,946.8 403.3,949.4 404.9,952 406.5,954.6 408.2,957.1 409.8,959.7 411.5,962.2 413.2,964.8 414.9,967.3 416.6,969.8 418.3,972.3 420.1,974.7 421.8,977.2 423.6,979.6 425.4,982.1 427.2,984.5 429.1,986.9 430.9,989.3 432.8,991.6 434.7,994 436.6,996.3 438.6,998.6 440.5,1000.9 442.5,1003.2 444.5,1005.5 446.5,1007.7 448.6,1009.9 450.6,1012.1 452.7,1014.3 454.8,1016.4 457,1018.5 459.1,1020.6 461.3,1022.7 463.5,1024.7 465.7,1026.7 468,1028.7 470.3,1030.6 472.6,1032.5 474.9,1034.4 477.3,1036.3 479.7,1038.1 482.1,1039.9 484.6,1041.7 487,1043.4 489.5,1045.1 492.1,1046.7 494.6,1048.3 497.2,1049.9 499.8,1051.4 502.5,1052.9 505.2,1054.4 507.9,1055.8 510.6,1057.2 513.4,1058.5"/>
<path d="M300.6,658.5 300.9,661.5 301.2,664.5 301.5,667.5 301.8,670.4 302.1,673.4 302.5,676.4 302.8,679.4 303.1,682.4 303.5,685.4 303.8,688.4 304.2,691.3 304.6,694.3 304.9,697.3 305.3,700.3 305.7,703.3 306.1,706.3 306.5,709.3 306.9,712.3 307.3,715.2 307.7,718.2 308.2,721.2 308.6,724.2 309,727.2 309.5,730.2 310,733.2 310.4,736.2 310.9,739.1 311.4,742.1 311.8,745.1 312.3,748.1 312.8,751.1 313.4,754 313.9,757 314.4,760 314.9,763 315.5,766 316,768.9 316.6,771.9 317.1,774.9 317.7,777.8 318.3,780.8 318.9,783.8 319.5,786.7 320.1,789.7 320.7,792.7 321.3,795.6 321.9,798.6 322.6,801.6 323.2,804.5 323.9,807.5 324.6,810.4 325.2,813.4 325.9,816.3 326.6,819.3 327.3,822.2 328,825.2 328.7,828.1 329.5,831.1 330.2,834 330.9,836.9 331.7,839.9 332.5,842.8 333.2,845.7 334,848.6 334.8,851.6 335.6,854.5 336.4,857.4 337.2,860.3 338.1,863.2 338.9,866.1 339.8,869.1 340.6,872 341.5,874.9 342.4,877.8 343.3,880.7 344.2,883.5 345.1,886.4 346,889.3 346.9,892.2 347.9,895.1 348.8,898 349.8,900.8 350.8,903.7 351.8,906.6 352.8,909.4 353.8,912.3 354.8,915.2 355.8,918 356.8,920.9 357.9,923.7 358.9,926.5 360,929.4 361.1,932.2 362.2,935 363.3,937.8 364.4,940.7 365.6,943.5 366.7,946.3 367.8,949.1 369,951.9 370.2,954.7 371.4,957.4 372.6,960.2 373.8,963 375,965.7 376.3,968.5 377.5,971.2 378.8,974 380.1,976.7 381.4,979.4 382.7,982.2 384,984.9 385.4,987.6 386.7,990.3 388.1,992.9 389.5,995.6 390.9,998.3 392.3,1000.9 393.7,1003.6 395.2,1006.2 396.6,1008.9 398.1,1011.5 399.6,1014.1 401.1,1016.7 402.6,1019.3 404.2,1021.9 405.7,1024.4 407.3,1027 408.9,1029.5 410.5,1032.1 412.1,1034.6 413.7,1037.1 415.4,1039.6 417.1,1042.1 418.8,1044.5 420.5,1047 422.2,1049.5 423.9,1051.9 425.7,1054.3 427.5,1056.7 429.3,1059.1 431.1,1061.5 432.9,1063.9 434.8,1066.2 436.6,1068.6 438.5,1070.9 440.4,1073.2 442.3,1075.5 444.3,1077.8 446.2,1080.1 448.2,1082.3 450.2,1084.6 452.2,1086.8 454.3,1089 456.3,1091.2 458.4,1093.3 460.5,1095.5 462.7,1097.6 464.8,1099.8 467,1101.9 469.1,1104 471.3,1106.1 473.6,1108.1 475.8,1110.2 478.1,1112.2 480.4,1114.2 482.7,1116.2 485,1118.1 487.4,1120.1 489.7,1122 492.1,1123.9 494.6,1125.8 497,1127.7"/>
<path d="M298.1,658.5 298.2,661.5 298.4,664.5 298.6,667.5 298.7,670.5 298.9,673.5 299.1,676.5 299.2,679.5 299.4,682.6 299.6,685.6 299.8,688.6 300,691.6 300.2,694.6 300.4,697.6 300.6,700.6 300.9,703.6 301.1,706.6 301.3,709.6 301.6,712.7 301.8,715.7 302.1,718.7 302.3,721.7 302.6,724.7 302.8,727.7 303.1,730.7 303.4,733.7 303.7,736.8 304,739.8 304.3,742.8 304.6,745.8 304.9,748.8 305.2,751.8 305.5,754.8 305.9,757.8 306.2,760.8 306.6,763.8 306.9,766.9 307.3,769.9 307.6,772.9 308,775.9 308.4,778.9 308.8,781.9 309.2,784.9 309.6,787.9 310,790.9 310.4,793.9 310.8,796.9 311.2,799.9 311.7,802.9 312.1,805.9 312.6,808.9 313,811.9 313.5,814.9 314,817.9 314.4,820.8 314.9,823.8 315.4,826.8 315.9,829.8 316.4,832.8 317,835.8 317.5,838.7 318,841.7 318.6,844.7 319.1,847.7 319.7,850.7 320.2,853.6 320.8,856.6 321.4,859.6 322,862.5 322.6,865.5 323.2,868.5 323.8,871.4 324.5,874.4 325.1,877.3 325.7,880.3 326.4,883.2 327.1,886.2 327.7,889.1 328.4,892.1 329.1,895 329.8,898 330.5,900.9 331.2,903.8 331.9,906.8 332.7,909.7 333.4,912.6 334.2,915.5 334.9,918.5 335.7,921.4 336.5,924.3 337.3,927.2 338.1,930.1 338.9,933 339.7,935.9 340.5,938.8 341.4,941.7 342.2,944.6 343.1,947.5 344,950.4 344.8,953.3 345.7,956.2 346.6,959.1 347.5,961.9 348.5,964.8 349.4,967.7 350.3,970.5 351.3,973.4 352.3,976.3 353.2,979.1 354.2,982 355.2,984.8 356.2,987.7 357.2,990.5 358.2,993.3 359.3,996.2 360.3,999 361.4,1001.8 362.5,1004.6 363.5,1007.5 364.6,1010.3 365.8,1013.1 366.9,1015.9 368,1018.7 369.1,1021.5 370.3,1024.2 371.5,1027 372.6,1029.8 373.8,1032.6 375,1035.3 376.2,1038.1 377.5,1040.9 378.7,1043.6 380,1046.3 381.2,1049.1 382.5,1051.8 383.8,1054.5 385.1,1057.3 386.4,1060 387.8,1062.7 389.1,1065.4 390.5,1068.1 391.9,1070.8 393.2,1073.5 394.6,1076.1 396.1,1078.8 397.5,1081.5 398.9,1084.1 400.4,1086.8 401.9,1089.4 403.3,1092.1 404.9,1094.7 406.4,1097.3 407.9,1099.9 409.4,1102.5 411,1105.1 412.6,1107.7 414.2,1110.3 415.8,1112.9 417.4,1115.5 419,1118 420.7,1120.6 422.4,1123.1 424.1,1125.7 425.8,1128.2 427.5,1130.7 429.2,1133.2 431,1135.7 432.8,1138.2 434.6,1140.7 436.4,1143.1 438.2,1145.5 440.1,1147.9 441.9,1150.3 443.8,1152.7 445.8,1155 447.7,1157.3 449.7,1159.6 451.7,1161.9 453.7,1164.1 455.7,1166.4 457.8,1168.5 459.9,1170.7 462,1172.8 464.1,1174.9 466.3,1177 468.5,1179 470.7,1181 473,1183 475.3,1184.9 477.6,1186.8 479.9,1188.6 482.3,1190.4 484.7,1192.2 487.1,1193.9 489.6,1195.6 492.1,1197.3 494.6,1198.8 497.2,1200.4 499.8,1201.9 502.4,1203.3 505.1,1204.7 507.8,1206.1 510.5,1207.4"/>
<path d="M303.5,658.5 304,661.5 304.4,664.5 304.9,667.5 305.4,670.4 305.9,673.4 306.4,676.4 306.8,679.4 307.3,682.4 307.8,685.4 308.3,688.3 308.8,691.3 309.3,694.3 309.7,697.3 310.2,700.3 310.7,703.3 311.2,706.2 311.7,709.2 312.2,712.2 312.7,715.2 313.2,718.2 313.7,721.1 314.2,724.1 314.7,727.1 315.2,730.1 315.7,733.1 316.3,736 316.8,739 317.3,742 317.8,745 318.3,747.9 318.8,750.9 319.4,753.9 319.9,756.9 320.4,759.9 320.9,762.8 321.5,765.8 322,768.8 322.5,771.8 323.1,774.7 323.6,777.7 324.1,780.7 324.7,783.6 325.2,786.6 325.8,789.6 326.3,792.6 326.9,795.5 327.4,798.5 328,801.5 328.5,804.4 329.1,807.4 329.6,810.4 330.2,813.4 330.8,816.3 331.3,819.3 331.9,822.3 332.5,825.2 333,828.2 333.6,831.2 334.2,834.1 334.8,837.1 335.4,840 335.9,843 336.5,846 337.1,848.9 337.7,851.9 338.3,854.9 338.9,857.8 339.5,860.8 340.1,863.7 340.7,866.7 341.3,869.7 341.9,872.6 342.5,875.6 343.1,878.5 343.8,881.5 344.4,884.4 345,887.4 345.6,890.4 346.2,893.3 346.9,896.3 347.5,899.2 348.1,902.2 348.8,905.1 349.4,908.1 350,911 350.7,914 351.3,916.9 352,919.9 352.6,922.8 353.3,925.8 353.9,928.7 354.6,931.7 355.3,934.6 355.9,937.5 356.6,940.5 357.3,943.4 358,946.4 358.6,949.3 359.3,952.3 360,955.2 360.7,958.1 361.4,961.1 362.1,964 362.8,966.9 363.4,969.9 364.1,972.8 364.9,975.8 365.6,978.7 366.3,981.6 367,984.6 367.7,987.5 368.4,990.4 369.1,993.3 369.9,996.3 370.6,999.2 371.3,1002.1 372.1,1005.1 372.8,1008 373.5,1010.9 374.3,1013.8 375,1016.8 375.8,1019.7 376.5,1022.6 377.3,1025.5 378,1028.5 378.8,1031.4 379.6,1034.3 380.4,1037.2 381.1,1040.1 381.9,1043 382.7,1045.9 383.5,1048.9 384.3,1051.8 385.1,1054.7 385.9,1057.6 386.7,1060.5 387.6,1063.4 388.4,1066.3 389.2,1069.2 390.1,1072.1 390.9,1075 391.8,1077.9 392.6,1080.8 393.5,1083.7 394.3,1086.6 395.2,1089.5 396.1,1092.4 397,1095.3 397.9,1098.2 398.8,1101.1 399.7,1103.9 400.7,1106.8 401.6,1109.7 402.5,1112.6 403.5,1115.5 404.4,1118.3 405.4,1121.2 406.4,1124.1 407.3,1126.9 408.3,1129.8 409.3,1132.7 410.3,1135.5 411.4,1138.4 412.4,1141.3 413.4,1144.1 414.5,1147 415.5,1149.8 416.6,1152.7 417.7,1155.5 418.7,1158.4 419.8,1161.2 421,1164.1 422.1,1166.9 423.2,1169.7 424.3,1172.6 425.5,1175.4 426.7,1178.2 427.8,1181.1 429,1183.9 430.2,1186.7 431.4,1189.5 432.7,1192.3 433.9,1195.1 435.2,1197.9 436.5,1200.6 437.8,1203.4 439.1,1206.1 440.5,1208.8 441.8,1211.5 443.2,1214.2 444.6,1216.9 446.1,1219.5 447.6,1222.1 449.1,1224.7 450.6,1227.3 452.2,1229.8 453.8,1232.3 455.4,1234.8 457.1,1237.2 458.8,1239.6 460.5,1242 462.3,1244.3 464.1,1246.6 466,1248.9 467.9,1251.1 469.8,1253.3 471.8,1255.4 473.8,1257.5 475.8,1259.6 478,1261.6 480.1,1263.5 482.3,1265.4 484.6,1267.3 486.9,1269.1 489.2,1270.8 491.6,1272.5 494.1,1274.2 496.6,1275.7 499.1,1277.3 501.8,1278.7 504.4,1280.1 507.2,1281.5 510,1282.7 512.8,1283.9 515.7,1285.1 518.7,1286.1 521.7,1287.1 524.8,1288 528,1288.9"/>
<path d="M103.5,489.2 266.8,604.9"/>
</g>
<g fill="none" stroke="#000" stroke-width="1.333" stroke-linejoin="miter">
<polygon points="79.3,440.2 83.8,426.8 91.2,432.6"/>
<polygon points="304.3,604.6 302.2,590.6 311.4,592.4"/>
<polygon points="307.5,604.6 308.0,590.5 316.7,593.9"/>
<polygon points="309.0,604.6 309.4,590.5 318.1,593.8"/>
<polygon points="310.5,604.6 310.8,590.5 319.6,593.8"/>
<polygon points="312.0,604.6 312.2,590.5 321.0,593.7"/>
<polygon points="313.0,604.6 316.9,591.0 324.5,596.5"/>
<polygon points="326.1,604.6 333.8,592.7 339.5,600.1"/>
<polygon points="379.6,604.8 391.4,597.0 393.7,606.1"/>
<polygon points="416.3,625.4 429.6,620.7 429.6,630.1"/>
<polygon points="379.6,645.6 393.7,644.3 391.4,653.4"/>
<polygon points="326.3,646.1 339.6,650.8 333.8,658.1"/>
<polygon points="313.5,646.1 324.0,655.6 315.8,660.0"/>
<polygon points="307.2,645.8 316.3,656.6 307.6,659.9"/>
<polygon points="304.0,645.8 311.6,657.7 302.5,659.8"/>
<polygon points="302.2,645.8 308.7,658.3 299.4,659.7"/>
<polygon points="299.5,645.8 305.3,658.7 296.0,659.5"/>
<polygon points="297.6,645.8 302.8,658.9 293.5,659.3"/>
<polygon points="302.0,645.8 308.2,658.5 298.9,659.6"/>
<polygon points="92.9,481.8 106.5,485.6 101.2,493.3"/>
</g>
</svg>
</body></html>
